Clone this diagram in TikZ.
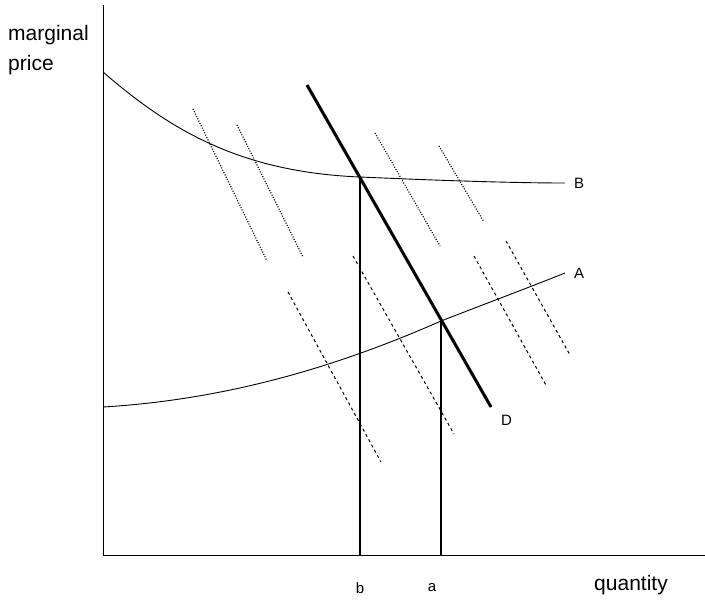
\documentclass[tikz,border=0pt]{standalone}
\usepackage{fontspec}
\setmainfont{Liberation Sans}
\usetikzlibrary{positioning, calc}

\begin{document}
\begin{tikzpicture}[
        x=1pt, y=-1pt,
        axis/.style={line width=1pt},
        curve/.style={line width=0.9pt},
        demand/.style={line width=3pt},
        drop/.style={line width=1.4pt},
        isodot/.style={line width=1.2pt, dash pattern=on 1pt off 1.6pt},
        isodash/.style={line width=1pt, dash pattern=on 3pt off 3pt},
        tag/.style={font=\fontsize{15}{18}\selectfont, inner sep=0pt},
        bigtag/.style={font=\fontsize{21}{30}\selectfont, inner sep=0pt, align=left}
      ]
        \useasboundingbox (0,0) rectangle (705,600);

        % axes
        \coordinate (origin) at (103,555);
        \coordinate (ytop) at (103,5);
        \coordinate (xend) at (705,555);
        \draw[axis] (ytop) -- (origin) -- (xend);

        % curves
        \coordinate (bstart) at (103,72);
        \coordinate (bend) at (565,183);
        \coordinate (astart) at (103,407);
        \coordinate (aend) at (565,273);
        \coordinate (qb) at (360,177);
        \coordinate (qa) at (441,321);
        \draw[curve] (bstart) .. controls (170,130) and (240,172) .. (qb)
          .. controls (450,181) and (520,183) .. (bend);
        \draw[curve] (astart) .. controls (220,400) and (330,370) .. (qa)
          .. controls (490,302) and (530,287) .. (aend);

        % demand
        \coordinate (dtop) at (307,85);
        \coordinate (dbot) at (491,407);
        \draw[demand] (dtop) -- (dbot);

        % drops to the quantity axis
        \draw[drop] (qb) -- (qb |- origin);
        \draw[drop] (qa) -- (qa |- origin);

        % iso lines
        \draw[isodot] (193,109) -- (267,261);
        \draw[isodot] (237,125) -- (303,257);
        \draw[isodot] (375,133) -- (440,246);
        \draw[isodot] (439,146) -- (484,222);
        \draw[isodash] (288,292) -- (381,462);
        \draw[isodash] (353,256) -- (454,434);
        \draw[isodash] (474,256) -- (547,387);
        \draw[isodash] (506,241) -- (570,355);

        % labels
        \node[tag, anchor=west] (lblB) at (574,183) {B};
        \node[tag, anchor=west] (lblA) at (574,273) {A};
        \node[tag, anchor=west] (lblD) at (501,420) {D};
        \node[tag] (lblb) at (360,588) {b};
        \node[tag] (lbla) at (432,588) {a};
        \node[bigtag] (lblq) at (631,585) {quantity};
        \node[bigtag, anchor=north west] (lblp) at (8,25) {marginal\\price};
      \end{tikzpicture}
\end{document}
